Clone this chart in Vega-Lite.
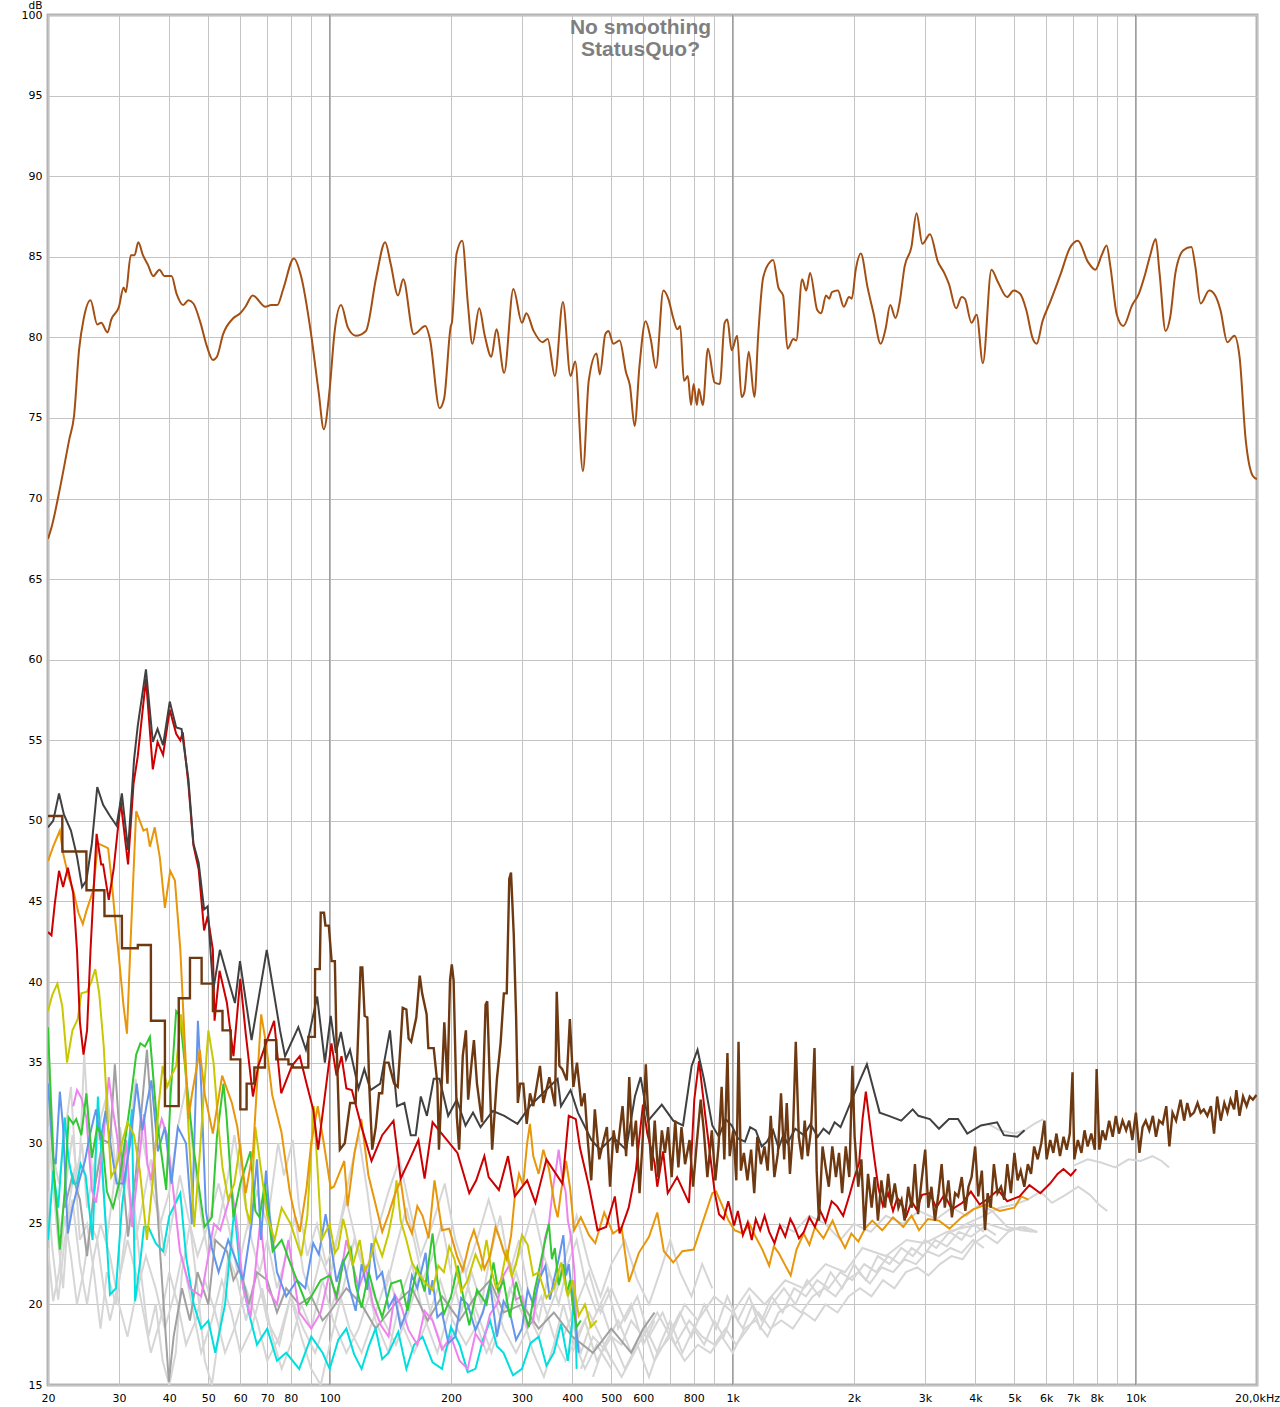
{
"$schema":"https://vega.github.io/schema/vega-lite/v6.json",
"width":1209,"height":1370,
"autosize":{"type":"none"},
"padding":{"left":48,"top":15,"right":23,"bottom":22},
"background":"#ffffff",
"title":{"text":["No smoothing","StatusQuo?"],"anchor":"middle","dx":-12,"offset":-60,"fontSize":21,"font":"Liberation Sans","fontWeight":"bold","color":"#7f7f7f","lineHeight":22},
"config":{"view":{"stroke":"#b4b4b4","strokeWidth":3},"font":"DejaVu Sans",
 "axis":{"labelFont":"DejaVu Sans","labelFontSize":11,"labelColor":"#000000","ticks":false,"domain":false,"gridColor":"#c4c4c4","gridWidth":1,"gridOpacity":1}},
"datasets":{
"major":[{"f":100},{"f":1000},{"f":10000}],
"main":[{"f":20,"db":67.5},{"f":20.45,"db":68.3},{"f":21.4,"db":70.6},{"f":22.6,"db":73.7},{"f":23.2,"db":75.1},{"f":23.9,"db":79.3},{"f":24.5,"db":81.1},{"f":25.5,"db":82.3},{"f":26.5,"db":80.8},{"f":27.1,"db":80.9},{"f":28.1,"db":80.3},{"f":28.7,"db":81.1},{"f":30,"db":81.9},{"f":30.8,"db":83.1},{"f":31.2,"db":82.8},{"f":32.1,"db":85.1},{"f":32.8,"db":85.1},{"f":33.5,"db":85.9},{"f":34.4,"db":85.1},{"f":35.4,"db":84.5},{"f":36.5,"db":83.8},{"f":37.8,"db":84.2},{"f":38.9,"db":83.8},{"f":40.5,"db":83.8},{"f":41.7,"db":82.7},{"f":43.3,"db":82.0},{"f":44.6,"db":82.3},{"f":45.9,"db":82.1},{"f":47.8,"db":80.9},{"f":49.5,"db":79.5},{"f":51.3,"db":78.6},{"f":52.5,"db":78.8},{"f":54.4,"db":80.2},{"f":57.7,"db":81.2},{"f":60,"db":81.5},{"f":61.8,"db":81.9},{"f":64.4,"db":82.6},{"f":69.3,"db":81.9},{"f":71.6,"db":82.0},{"f":74.1,"db":82},{"f":76.7,"db":83.0},{"f":81.5,"db":84.9},{"f":84.9,"db":83.8},{"f":89.8,"db":80.3},{"f":93.9,"db":76.6},{"f":96.7,"db":74.3},{"f":100,"db":76.8},{"f":102.8,"db":80.3},{"f":106.7,"db":82},{"f":111,"db":80.6},{"f":116.1,"db":80.1},{"f":123,"db":80.4},{"f":130.4,"db":83.7},{"f":137.3,"db":85.9},{"f":141.6,"db":84.6},{"f":147.8,"db":82.6},{"f":152.2,"db":83.6},{"f":161.6,"db":80.2},{"f":172.8,"db":80.7},{"f":177.3,"db":79.9},{"f":187.4,"db":75.6},{"f":192.3,"db":76.2},{"f":199.8,"db":80.7},{"f":201,"db":80.9},{"f":206.5,"db":85.2},{"f":213.3,"db":86.0},{"f":220.2,"db":82.1},{"f":226,"db":79.6},{"f":235,"db":81.8},{"f":242.6,"db":80.1},{"f":251.9,"db":78.8},{"f":259.3,"db":80.5},{"f":271,"db":77.8},{"f":285.6,"db":83.0},{"f":300,"db":80.9},{"f":307.7,"db":81.5},{"f":320.6,"db":80.4},{"f":337.3,"db":79.7},{"f":347.6,"db":79.9},{"f":362,"db":77.6},{"f":379.1,"db":82.2},{"f":396,"db":77.6},{"f":406.7,"db":78.5},{"f":425,"db":71.7},{"f":439.3,"db":77.3},{"f":459.5,"db":79.0},{"f":468,"db":77.7},{"f":483,"db":80.2},{"f":492,"db":80.4},{"f":505.4,"db":79.6},{"f":524,"db":79.8},{"f":544,"db":77.8},{"f":556,"db":77.0},{"f":571,"db":74.5},{"f":587,"db":78.2},{"f":608,"db":81.0},{"f":626,"db":79.9},{"f":645,"db":78.1},{"f":673,"db":82.9},{"f":692,"db":82.4},{"f":712,"db":81.2},{"f":729,"db":80.5},{"f":741,"db":80.7},{"f":757,"db":77.3},{"f":774,"db":77.6},{"f":788,"db":75.8},{"f":800,"db":77.1},{"f":815,"db":75.8},{"f":824,"db":76.8},{"f":843,"db":75.8},{"f":868,"db":79.3},{"f":902,"db":77.2},{"f":929,"db":77.1},{"f":955,"db":80.9},{"f":970,"db":81.1},{"f":994,"db":79.2},{"f":1026,"db":80.1},{"f":1052,"db":76.3},{"f":1069,"db":76.6},{"f":1096,"db":79.1},{"f":1132,"db":76.3},{"f":1158,"db":80.3},{"f":1190,"db":83.7},{"f":1240,"db":84.7},{"f":1260,"db":84.8},{"f":1298,"db":83.1},{"f":1334,"db":82.6},{"f":1368,"db":79.3},{"f":1415,"db":79.9},{"f":1438,"db":79.8},{"f":1487,"db":83.6},{"f":1522,"db":82.9},{"f":1556,"db":84.0},{"f":1621,"db":81.7},{"f":1658,"db":81.5},{"f":1704,"db":82.6},{"f":1735,"db":82.4},{"f":1763,"db":82.8},{"f":1824,"db":82.9},{"f":1887,"db":81.9},{"f":1944,"db":82.5},{"f":1975,"db":82.4},{"f":2020,"db":84.2},{"f":2080,"db":85.2},{"f":2161,"db":83.1},{"f":2236,"db":81.5},{"f":2329,"db":79.6},{"f":2394,"db":80.5},{"f":2460,"db":82.0},{"f":2535,"db":81.2},{"f":2593,"db":82.1},{"f":2671,"db":84.4},{"f":2776,"db":85.6},{"f":2859,"db":87.7},{"f":2957,"db":85.8},{"f":3087,"db":86.4},{"f":3230,"db":84.7},{"f":3349,"db":84.0},{"f":3441,"db":83.3},{"f":3584,"db":81.8},{"f":3700,"db":82.5},{"f":3767,"db":82.4},{"f":3914,"db":80.9},{"f":4030,"db":81.4},{"f":4177,"db":78.4},{"f":4386,"db":84.2},{"f":4557,"db":83.4},{"f":4796,"db":82.5},{"f":4979,"db":82.9},{"f":5168,"db":82.7},{"f":5352,"db":81.7},{"f":5556,"db":79.9},{"f":5681,"db":79.6},{"f":5872,"db":81.0},{"f":6137,"db":82.2},{"f":6528,"db":84.0},{"f":6850,"db":85.5},{"f":7189,"db":86.0},{"f":7606,"db":84.7},{"f":7940,"db":84.2},{"f":8235,"db":85.1},{"f":8470,"db":85.7},{"f":8653,"db":84.4},{"f":8979,"db":81.4},{"f":9316,"db":80.7},{"f":9800,"db":82.0},{"f":10180,"db":82.7},{"f":10550,"db":83.9},{"f":10840,"db":85.0},{"f":11210,"db":86.1},{"f":11460,"db":84.0},{"f":11860,"db":80.4},{"f":12190,"db":81.3},{"f":12550,"db":84.0},{"f":13130,"db":85.4},{"f":13750,"db":85.6},{"f":14060,"db":84.4},{"f":14490,"db":82.1},{"f":15220,"db":82.9},{"f":15750,"db":82.6},{"f":16230,"db":81.7},{"f":16880,"db":79.7},{"f":17570,"db":80.1},{"f":18100,"db":78.8},{"f":18740,"db":73.7},{"f":19530,"db":71.4},{"f":20000,"db":71.2}],
"brown":[{"f":20,"db":50.3},{"f":21.7,"db":50.3},{"f":21.72,"db":48.1},{"f":24.9,"db":48.1},{"f":24.92,"db":45.7},{"f":27.6,"db":45.7},{"f":27.62,"db":44.1},{"f":30.5,"db":44.1},{"f":30.52,"db":42.1},{"f":33.4,"db":42.1},{"f":33.42,"db":42.3},{"f":36,"db":42.3},{"f":36.02,"db":37.6},{"f":39,"db":37.6},{"f":39.02,"db":32.3},{"f":42.2,"db":32.3},{"f":42.22,"db":39.0},{"f":45,"db":39.0},{"f":45.02,"db":41.5},{"f":48.1,"db":41.5},{"f":48.12,"db":39.9},{"f":51.3,"db":39.9},{"f":51.32,"db":38.2},{"f":54.2,"db":38.2},{"f":54.22,"db":37.0},{"f":56.8,"db":37.0},{"f":56.82,"db":35.2},{"f":60,"db":35.2},{"f":60.02,"db":32.1},{"f":62.2,"db":32.1},{"f":62.22,"db":33.7},{"f":65,"db":33.7},{"f":65.02,"db":34.7},{"f":69.1,"db":34.7},{"f":69.12,"db":36.4},{"f":73.7,"db":36.4},{"f":73.72,"db":35.2},{"f":79,"db":35.2},{"f":79.02,"db":34.9},{"f":81,"db":34.9},{"f":81.02,"db":34.7},{"f":88.5,"db":34.7},{"f":88.52,"db":36.6},{"f":91.9,"db":36.6},{"f":92,"db":40.8},{"f":94.5,"db":40.8},{"f":95,"db":44.3},{"f":96.8,"db":44.3},{"f":97.6,"db":43.5},{"f":99.5,"db":43.5},{"f":101.1,"db":41.3},{"f":103,"db":41.3},{"f":103.9,"db":36.6},{"f":106,"db":29.6},{"f":109,"db":30.0},{"f":112.4,"db":32.5},{"f":116,"db":32.5},{"f":119.3,"db":40.9},{"f":120.5,"db":40.9},{"f":122.1,"db":37.9},{"f":124,"db":37.8},{"f":125.3,"db":33.7},{"f":127.5,"db":29.6},{"f":130.1,"db":31.0},{"f":132.6,"db":33.1},{"f":135,"db":33.1},{"f":136.9,"db":35.0},{"f":140,"db":35.0},{"f":144.5,"db":33.7},{"f":147.5,"db":33.5},{"f":149.7,"db":35.9},{"f":151.8,"db":38.4},{"f":155,"db":38.3},{"f":157,"db":36.5},{"f":159.3,"db":36.3},{"f":164,"db":37.8},{"f":167.3,"db":40.4},{"f":169.6,"db":39.3},{"f":174,"db":38.0},{"f":175.7,"db":35.9},{"f":181.2,"db":35.9},{"f":185,"db":33.7},{"f":186.7,"db":29.6},{"f":192.5,"db":37.5},{"f":196,"db":33.7},{"f":198.9,"db":40.1},{"f":200.9,"db":41.1},{"f":203,"db":40.1},{"f":206.7,"db":31.7},{"f":209.5,"db":29.6},{"f":213.9,"db":35.4},{"f":217.8,"db":37.0},{"f":220.6,"db":32.7},{"f":225,"db":35},{"f":228,"db":36.4},{"f":232,"db":33.7},{"f":238.8,"db":31.3},{"f":243.7,"db":38.6},{"f":246,"db":38.8},{"f":249.6,"db":33.9},{"f":253,"db":29.6},{"f":260,"db":34},{"f":265.5,"db":36.2},{"f":270.5,"db":39.3},{"f":275,"db":39.3},{"f":279,"db":46.4},{"f":281.8,"db":46.8},{"f":286.2,"db":43.0},{"f":290.1,"db":37.9},{"f":293,"db":32.5},{"f":297,"db":33.7},{"f":302.3,"db":33.7},{"f":308.2,"db":31.2},{"f":314.1,"db":33.1},{"f":320.1,"db":32.3},{"f":332.5,"db":34.8},{"f":338.9,"db":32.5},{"f":350.8,"db":34.1},{"f":362.4,"db":32.3},{"f":365.9,"db":39.4},{"f":371.5,"db":34.8},{"f":377.6,"db":34.6},{"f":387.4,"db":33.9},{"f":394.4,"db":37.7},{"f":402.5,"db":33.5},{"f":410.8,"db":35.0},{"f":421.4,"db":32.3},{"f":429,"db":33.1},{"f":436.8,"db":30.2},{"f":445.7,"db":27.7},{"f":454.9,"db":32.1},{"f":466.7,"db":29.0},{"f":476.3,"db":30.0},{"f":487.4,"db":31.0},{"f":496.2,"db":27.3},{"f":506.4,"db":30.8},{"f":516.8,"db":29.4},{"f":533,"db":32.3},{"f":544,"db":29.2},{"f":553.8,"db":34.1},{"f":563.8,"db":29.8},{"f":575.4,"db":31.4},{"f":587.3,"db":26.9},{"f":597.9,"db":30.2},{"f":608.7,"db":34.9},{"f":618,"db":31.4},{"f":629.2,"db":28.3},{"f":640.6,"db":31.4},{"f":653.7,"db":27.9},{"f":667.2,"db":30.8},{"f":679.2,"db":29.4},{"f":691.5,"db":31.0},{"f":705.6,"db":27.9},{"f":720.2,"db":31.4},{"f":733.2,"db":28.5},{"f":746.4,"db":31.0},{"f":761.8,"db":28.7},{"f":781.5,"db":30.2},{"f":797.5,"db":27.3},{"f":811.9,"db":29.6},{"f":832.9,"db":32.7},{"f":847.8,"db":30.8},{"f":865.3,"db":27.9},{"f":887.7,"db":30.8},{"f":905.9,"db":27.7},{"f":922.3,"db":29.8},{"f":938.9,"db":33.5},{"f":953.4,"db":29.0},{"f":970.5,"db":35.6},{"f":983,"db":29.2},{"f":1003,"db":30.8},{"f":1021,"db":27.7},{"f":1034,"db":36.3},{"f":1048,"db":28.3},{"f":1066,"db":29.4},{"f":1088,"db":27.7},{"f":1111,"db":29.6},{"f":1131,"db":26.9},{"f":1151,"db":30.4},{"f":1175,"db":28.7},{"f":1199,"db":29.8},{"f":1221,"db":28.3},{"f":1243,"db":31.7},{"f":1269,"db":27.9},{"f":1295,"db":29.4},{"f":1318,"db":33.1},{"f":1342,"db":29.0},{"f":1362,"db":32.5},{"f":1387,"db":28.1},{"f":1412,"db":30.8},{"f":1434,"db":36.3},{"f":1459,"db":30.4},{"f":1486,"db":29.0},{"f":1509,"db":31.4},{"f":1536,"db":29.2},{"f":1564,"db":30.8},{"f":1596,"db":35.9},{"f":1616,"db":28.3},{"f":1637,"db":25.2},{"f":1671,"db":29.8},{"f":1701,"db":28.5},{"f":1732,"db":27.3},{"f":1767,"db":29.8},{"f":1804,"db":27.9},{"f":1836,"db":29.4},{"f":1869,"db":26.9},{"f":1908,"db":29.8},{"f":1947,"db":27.9},{"f":1982,"db":34.8},{"f":2007,"db":30.4},{"f":2049,"db":27.3},{"f":2086,"db":29.0},{"f":2123,"db":24.6},{"f":2167,"db":28.1},{"f":2212,"db":26.0},{"f":2252,"db":27.9},{"f":2293,"db":25.2},{"f":2339,"db":27.7},{"f":2388,"db":26.0},{"f":2431,"db":28.1},{"f":2475,"db":26.2},{"f":2525,"db":27.5},{"f":2578,"db":26.0},{"f":2624,"db":26.5},{"f":2671,"db":25.2},{"f":2726,"db":27.3},{"f":2782,"db":26.0},{"f":2833,"db":28.7},{"f":2884,"db":25.6},{"f":2943,"db":27.7},{"f":3004,"db":29.6},{"f":3058,"db":26.0},{"f":3113,"db":27.3},{"f":3176,"db":25.2},{"f":3242,"db":26.9},{"f":3300,"db":28.7},{"f":3360,"db":26.0},{"f":3430,"db":27.7},{"f":3500,"db":25.4},{"f":3563,"db":26.9},{"f":3627,"db":26.7},{"f":3702,"db":27.9},{"f":3778,"db":25.8},{"f":3847,"db":27.3},{"f":3916,"db":27.9},{"f":3996,"db":29.8},{"f":4068,"db":26.7},{"f":4152,"db":28.3},{"f":4227,"db":24.6},{"f":4292,"db":26.9},{"f":4369,"db":26.0},{"f":4448,"db":28.7},{"f":4540,"db":26.9},{"f":4633,"db":27.3},{"f":4717,"db":26.5},{"f":4802,"db":28.7},{"f":4901,"db":26.9},{"f":5002,"db":29.4},{"f":5093,"db":27.7},{"f":5184,"db":28.3},{"f":5292,"db":27.3},{"f":5401,"db":28.7},{"f":5499,"db":28.1},{"f":5598,"db":29.8},{"f":5713,"db":29.0},{"f":5831,"db":30.0},{"f":5936,"db":31.4},{"f":6012,"db":29.0},{"f":6136,"db":30.2},{"f":6246,"db":29.4},{"f":6359,"db":30.6},{"f":6489,"db":29.2},{"f":6623,"db":30.4},{"f":6743,"db":29.6},{"f":6864,"db":30.6},{"f":6970,"db":34.4},{"f":7042,"db":29.0},{"f":7186,"db":30.2},{"f":7335,"db":29.4},{"f":7466,"db":30.8},{"f":7601,"db":29.8},{"f":7758,"db":30.6},{"f":7918,"db":29.6},{"f":8000,"db":34.6},{"f":8124,"db":29.6},{"f":8270,"db":30.8},{"f":8419,"db":30.2},{"f":8593,"db":31.4},{"f":8770,"db":30.4},{"f":8929,"db":31.7},{"f":9089,"db":30.6},{"f":9277,"db":31.4},{"f":9469,"db":30.8},{"f":9636,"db":31.4},{"f":9810,"db":30.2},{"f":10012,"db":31.9},{"f":10219,"db":29.4},{"f":10402,"db":31.0},{"f":10590,"db":31.4},{"f":10808,"db":30.8},{"f":11031,"db":31.7},{"f":11230,"db":30.4},{"f":11432,"db":31.4},{"f":11668,"db":31.2},{"f":11909,"db":32.3},{"f":12123,"db":29.8},{"f":12342,"db":31.9},{"f":12596,"db":31.4},{"f":12923,"db":32.7},{"f":13190,"db":31.4},{"f":13427,"db":32.5},{"f":13669,"db":31.7},{"f":13950,"db":31.9},{"f":14239,"db":32.5},{"f":14495,"db":31.9},{"f":14756,"db":32.1},{"f":15061,"db":31.7},{"f":15370,"db":32.3},{"f":15648,"db":30.6},{"f":15929,"db":32.9},{"f":16258,"db":31.4},{"f":16593,"db":32.5},{"f":16891,"db":31.9},{"f":17195,"db":32.7},{"f":17551,"db":32.1},{"f":17776,"db":33.3},{"f":18097,"db":31.7},{"f":18468,"db":32.9},{"f":18850,"db":32.3},{"f":19190,"db":32.9},{"f":19535,"db":32.7},{"f":19936,"db":33.0}],
"dgray":[{"f":20,"db":49.6},{"f":20.6,"db":50.0},{"f":21.3,"db":51.7},{"f":21.9,"db":50.4},{"f":22.8,"db":49.4},{"f":23.6,"db":47.8},{"f":24.3,"db":45.9},{"f":24.9,"db":46.3},{"f":25.7,"db":48.6},{"f":26.5,"db":52.1},{"f":27.4,"db":51.0},{"f":28.5,"db":50.3},{"f":29.6,"db":49.7},{"f":30.5,"db":51.7},{"f":31.6,"db":48.2},{"f":32.7,"db":53.8},{"f":33.4,"db":55.9},{"f":35,"db":59.4},{"f":36.4,"db":54.9},{"f":37.4,"db":55.7},{"f":38.6,"db":54.7},{"f":40.1,"db":57.4},{"f":41.6,"db":55.8},{"f":42.9,"db":55.7},{"f":44.6,"db":52.6},{"f":45.9,"db":48.6},{"f":47.3,"db":47.4},{"f":48.8,"db":44.5},{"f":49.8,"db":44.7},{"f":50.6,"db":42.0},{"f":51.4,"db":39.5},{"f":53.4,"db":42.0},{"f":55.5,"db":40.5},{"f":58.2,"db":38.7},{"f":59.9,"db":41.3},{"f":64,"db":36.4},{"f":69.8,"db":42.0},{"f":75.3,"db":37.0},{"f":77.5,"db":35.4},{"f":83.6,"db":37.2},{"f":87.3,"db":35.8},{"f":93.1,"db":39.1},{"f":97.3,"db":35.0},{"f":100.6,"db":37.9},{"f":103.6,"db":35.6},{"f":106.6,"db":36.9},{"f":109.8,"db":35.2},{"f":112.3,"db":35.8},{"f":117.9,"db":33.4},{"f":121.9,"db":34.6},{"f":126.3,"db":33.3},{"f":133.5,"db":33.7},{"f":141.1,"db":37.0},{"f":146.9,"db":32.3},{"f":153.2,"db":32.5},{"f":158.9,"db":30.5},{"f":163.5,"db":30.5},{"f":168.3,"db":32.9},{"f":174.3,"db":31.7},{"f":181.2,"db":34.0},{"f":187.3,"db":34.0},{"f":196.8,"db":31.7},{"f":206.7,"db":32.7},{"f":217.3,"db":31.1},{"f":226.8,"db":31.9},{"f":236.8,"db":31.0},{"f":254,"db":32.0},{"f":271.3,"db":31.7},{"f":292.4,"db":31.2},{"f":314,"db":32.3},{"f":338,"db":33.1},{"f":367.7,"db":34.0},{"f":375,"db":32.3},{"f":396,"db":33.3},{"f":413,"db":31.9},{"f":446,"db":30.2},{"f":469,"db":29.6},{"f":504,"db":30.4},{"f":544,"db":29.6},{"f":572,"db":32.9},{"f":591,"db":34.1},{"f":617,"db":31.4},{"f":667,"db":32.4},{"f":712,"db":31.4},{"f":753,"db":31.1},{"f":791,"db":34.8},{"f":818,"db":35.8},{"f":848,"db":34.0},{"f":890,"db":31.1},{"f":924,"db":30.4},{"f":960,"db":31.5},{"f":995,"db":31.1},{"f":1030,"db":30.3},{"f":1073,"db":30.1},{"f":1105,"db":31.0},{"f":1141,"db":30.8},{"f":1180,"db":29.8},{"f":1216,"db":30.1},{"f":1260,"db":30.8},{"f":1300,"db":29.7},{"f":1335,"db":30.5},{"f":1368,"db":30.0},{"f":1430,"db":30.9},{"f":1502,"db":30.5},{"f":1560,"db":31.2},{"f":1625,"db":30.4},{"f":1680,"db":30.9},{"f":1735,"db":30.6},{"f":1790,"db":31.3},{"f":1852,"db":31.0},{"f":1953,"db":32.4},{"f":2076,"db":34.0},{"f":2153,"db":34.9},{"f":2227,"db":33.5},{"f":2316,"db":31.9},{"f":2439,"db":31.7},{"f":2620,"db":31.4},{"f":2797,"db":32.1},{"f":2889,"db":31.7},{"f":3085,"db":31.5},{"f":3250,"db":30.9},{"f":3441,"db":31.5},{"f":3624,"db":31.5},{"f":3820,"db":30.6},{"f":4131,"db":31.1},{"f":4530,"db":31.3},{"f":4710,"db":30.5},{"f":5087,"db":30.4},{"f":5300,"db":30.8}],
"red":[{"f":20,"db":43.1},{"f":20.4,"db":42.9},{"f":20.8,"db":44.9},{"f":21.3,"db":46.9},{"f":21.8,"db":45.9},{"f":22.4,"db":47.1},{"f":23.1,"db":45.5},{"f":23.6,"db":42.0},{"f":24.0,"db":37.5},{"f":24.5,"db":35.5},{"f":25.0,"db":37.0},{"f":25.5,"db":42.0},{"f":26.4,"db":49.2},{"f":27.1,"db":47.3},{"f":27.4,"db":47.3},{"f":28.3,"db":45.1},{"f":29.1,"db":47.0},{"f":30.3,"db":51.2},{"f":31.6,"db":47.3},{"f":32.6,"db":52.3},{"f":33.4,"db":54.0},{"f":35,"db":58.8},{"f":36.4,"db":53.2},{"f":37.4,"db":54.9},{"f":38.6,"db":54.1},{"f":40.1,"db":56.9},{"f":41.6,"db":55.4},{"f":42.6,"db":55.0},{"f":43.2,"db":55.5},{"f":44.6,"db":52.3},{"f":45.9,"db":48.5},{"f":47.3,"db":47.0},{"f":48.8,"db":43.2},{"f":49.8,"db":44.1},{"f":51.3,"db":42.0},{"f":51.8,"db":37.6},{"f":53.3,"db":40.7},{"f":55.6,"db":38.7},{"f":57.7,"db":35.4},{"f":60,"db":40.2},{"f":61.9,"db":36.8},{"f":64.5,"db":32.9},{"f":66.5,"db":34.8},{"f":69.5,"db":36.2},{"f":72.8,"db":37.6},{"f":75.8,"db":33.1},{"f":80.6,"db":34.8},{"f":84.3,"db":35.4},{"f":87.6,"db":33.7},{"f":91,"db":32.1},{"f":93.6,"db":29.6},{"f":101,"db":36.2},{"f":104,"db":34.2},{"f":107,"db":35.4},{"f":110,"db":33.4},{"f":113.5,"db":33.3},{"f":120,"db":31},{"f":127,"db":28.9},{"f":135,"db":30.5},{"f":144,"db":31.4},{"f":150,"db":27.8},{"f":158,"db":29},{"f":166,"db":30.2},{"f":172,"db":27.8},{"f":180,"db":31.3},{"f":191,"db":30.5},{"f":207.5,"db":29.4},{"f":222,"db":26.9},{"f":231,"db":27.7},{"f":242,"db":29.2},{"f":248,"db":27.9},{"f":263,"db":27.1},{"f":277,"db":29.2},{"f":288,"db":26.7},{"f":309,"db":27.7},{"f":324,"db":26.3},{"f":345,"db":29.0},{"f":378,"db":27.5},{"f":392,"db":31.7},{"f":408,"db":31.5},{"f":418,"db":29.7},{"f":440,"db":27.3},{"f":462,"db":24.6},{"f":485,"db":24.8},{"f":510,"db":26.7},{"f":524,"db":24.4},{"f":552,"db":26.0},{"f":575,"db":28.3},{"f":599,"db":32.4},{"f":614,"db":30.6},{"f":640,"db":28.8},{"f":650,"db":27.3},{"f":672,"db":29.5},{"f":690,"db":26.9},{"f":728,"db":27.9},{"f":779,"db":26.3},{"f":803,"db":32.7},{"f":825,"db":35.1},{"f":857,"db":31.5},{"f":903,"db":26.9},{"f":925,"db":25.6},{"f":950,"db":25.3},{"f":975,"db":26.4},{"f":1008,"db":24.9},{"f":1030,"db":25.8},{"f":1060,"db":24.3},{"f":1090,"db":25.1},{"f":1115,"db":24.0},{"f":1141,"db":25.3},{"f":1170,"db":24.6},{"f":1200,"db":25.5},{"f":1232,"db":24.5},{"f":1270,"db":23.8},{"f":1310,"db":24.9},{"f":1350,"db":24.2},{"f":1390,"db":25.3},{"f":1418,"db":24.9},{"f":1460,"db":24.1},{"f":1502,"db":24.5},{"f":1550,"db":25.4},{"f":1600,"db":24.8},{"f":1650,"db":25.8},{"f":1700,"db":25.1},{"f":1760,"db":26.4},{"f":1815,"db":26.1},{"f":1880,"db":25.5},{"f":1950,"db":26.8},{"f":2000,"db":27.8},{"f":2060,"db":28.8},{"f":2100,"db":31.5},{"f":2140,"db":33.2},{"f":2190,"db":31.2},{"f":2248,"db":29.0},{"f":2300,"db":27.2},{"f":2360,"db":26.1},{"f":2430,"db":26.9},{"f":2500,"db":25.8},{"f":2560,"db":26.6},{"f":2620,"db":26.3},{"f":2700,"db":25.5},{"f":2780,"db":26.4},{"f":2858,"db":25.9},{"f":2950,"db":26.8},{"f":3085,"db":26.9},{"f":3200,"db":26.0},{"f":3350,"db":26.8},{"f":3500,"db":25.9},{"f":3714,"db":26.3},{"f":3900,"db":27.0},{"f":4100,"db":26.2},{"f":4327,"db":26.6},{"f":4550,"db":27.1},{"f":4800,"db":26.4},{"f":5150,"db":26.7},{"f":5450,"db":27.4},{"f":5800,"db":26.9},{"f":6130,"db":27.5},{"f":6400,"db":28.1},{"f":6620,"db":28.4},{"f":6900,"db":28.0},{"f":7120,"db":28.4}],
"orange":[{"f":20,"db":47.5},{"f":20.6,"db":48.4},{"f":21.4,"db":49.4},{"f":21.8,"db":48.0},{"f":22.5,"db":46.5},{"f":23.1,"db":45.7},{"f":23.8,"db":44.3},{"f":24.4,"db":43.6},{"f":24.9,"db":44.4},{"f":25.9,"db":45.7},{"f":26.6,"db":48.6},{"f":27.7,"db":48.4},{"f":28.2,"db":48.3},{"f":28.8,"db":46.2},{"f":29.3,"db":44.1},{"f":30.0,"db":41.5},{"f":30.8,"db":38.5},{"f":31.4,"db":36.8},{"f":32.0,"db":42.0},{"f":32.5,"db":46.0},{"f":33.1,"db":50.6},{"f":34.5,"db":49.4},{"f":35.2,"db":49.5},{"f":35.8,"db":48.4},{"f":36.8,"db":49.6},{"f":37.9,"db":47.7},{"f":39,"db":44.6},{"f":40.2,"db":46.9},{"f":41.3,"db":46.3},{"f":42.6,"db":42.0},{"f":43.3,"db":38.3},{"f":44.6,"db":31.5},{"f":45.5,"db":33},{"f":47.6,"db":35.8},{"f":49,"db":33},{"f":51.3,"db":30.6},{"f":54.1,"db":34.2},{"f":57.2,"db":32.5},{"f":59,"db":31},{"f":61.9,"db":26.9},{"f":64.6,"db":29.6},{"f":67.6,"db":38.0},{"f":69.5,"db":36.2},{"f":72,"db":33},{"f":75.9,"db":30.7},{"f":79.6,"db":27.0},{"f":82,"db":25.5},{"f":84.3,"db":24.5},{"f":87.6,"db":27.2},{"f":90,"db":30},{"f":93.4,"db":32.3},{"f":96.7,"db":30.0},{"f":100.6,"db":27.2},{"f":102.4,"db":27.3},{"f":108.7,"db":28.9},{"f":110.8,"db":26.1},{"f":115.2,"db":29.4},{"f":119.8,"db":31.5},{"f":124.8,"db":28.0},{"f":130,"db":26.2},{"f":135,"db":24.5},{"f":140,"db":25.6},{"f":145,"db":26.8},{"f":150,"db":27.7},{"f":155,"db":25.2},{"f":160,"db":24.4},{"f":165,"db":26.1},{"f":170,"db":25.5},{"f":176,"db":24.1},{"f":182,"db":27.7},{"f":190,"db":24.6},{"f":198,"db":24.7},{"f":207,"db":23.0},{"f":214,"db":22.1},{"f":222,"db":23.8},{"f":228,"db":24.6},{"f":235,"db":23.5},{"f":242,"db":22.2},{"f":250,"db":23.0},{"f":258,"db":24.8},{"f":265,"db":24.0},{"f":270,"db":23.3},{"f":275,"db":22.8},{"f":282,"db":24.3},{"f":288,"db":26.7},{"f":295,"db":28.1},{"f":302,"db":27.4},{"f":309,"db":30.0},{"f":314,"db":31.2},{"f":320,"db":29.2},{"f":330,"db":28.1},{"f":339,"db":29.6},{"f":350,"db":28.4},{"f":362,"db":26.1},{"f":368,"db":25.4},{"f":375,"db":27.0},{"f":386,"db":28.9},{"f":395,"db":27.2},{"f":404,"db":24.6},{"f":420,"db":25.4},{"f":440,"db":24.3},{"f":456,"db":23.8},{"f":480,"db":25.7},{"f":505,"db":24.4},{"f":530,"db":24.8},{"f":553,"db":21.4},{"f":585,"db":23.2},{"f":620,"db":24.2},{"f":650,"db":25.7},{"f":675,"db":23.3},{"f":712,"db":22.6},{"f":750,"db":23.3},{"f":800,"db":23.4},{"f":890,"db":26.9},{"f":910,"db":27.0},{"f":977,"db":25.2},{"f":1010,"db":24.6},{"f":1060,"db":24.4},{"f":1100,"db":25.0},{"f":1140,"db":24.2},{"f":1185,"db":23.4},{"f":1232,"db":22.4},{"f":1265,"db":23.6},{"f":1300,"db":23.2},{"f":1345,"db":22.5},{"f":1393,"db":21.8},{"f":1440,"db":23.4},{"f":1500,"db":24.4},{"f":1550,"db":23.7},{"f":1600,"db":24.8},{"f":1680,"db":24.1},{"f":1770,"db":25.2},{"f":1830,"db":24.3},{"f":1900,"db":23.5},{"f":1970,"db":24.4},{"f":2050,"db":23.9},{"f":2130,"db":24.7},{"f":2220,"db":25.2},{"f":2350,"db":24.6},{"f":2500,"db":25.4},{"f":2650,"db":24.8},{"f":2780,"db":25.5},{"f":2900,"db":24.6},{"f":3050,"db":25.3},{"f":3250,"db":25.2},{"f":3450,"db":24.7},{"f":3700,"db":25.4},{"f":3950,"db":25.9},{"f":4250,"db":26.2},{"f":4600,"db":25.8},{"f":5000,"db":26.0},{"f":5200,"db":26.7},{"f":5420,"db":26.5}],
"gray":[{"f":22,"db":26},{"f":23,"db":28},{"f":24,"db":26.5},{"f":25,"db":23},{"f":26,"db":27},{"f":27.4,"db":30.2},{"f":28.5,"db":30},{"f":29.3,"db":34.9},{"f":30.2,"db":30},{"f":31.6,"db":24.2},{"f":33,"db":28},{"f":35.2,"db":35.8},{"f":36.5,"db":30},{"f":38,"db":23},{"f":39.9,"db":15.2},{"f":41,"db":18},{"f":43,"db":21},{"f":45,"db":19},{"f":47,"db":22},{"f":50,"db":20},{"f":52,"db":24},{"f":55.6,"db":23.3},{"f":57.7,"db":21.5},{"f":60,"db":22.3},{"f":63,"db":20},{"f":66,"db":22},{"f":70,"db":21.5},{"f":74,"db":19.5},{"f":78,"db":21},{"f":84,"db":20},{"f":90,"db":20.5},{"f":96,"db":19},{"f":100,"db":19.5},{"f":110,"db":21},{"f":120,"db":20},{"f":130,"db":18.5},{"f":145,"db":20},{"f":160,"db":21},{"f":175,"db":19},{"f":190,"db":20.5},{"f":210,"db":19},{"f":230,"db":20.5},{"f":250,"db":21.5},{"f":270,"db":19.5},{"f":300,"db":20},{"f":330,"db":18.5},{"f":360,"db":19.5},{"f":400,"db":18},{"f":450,"db":17},{"f":500,"db":18.5},{"f":560,"db":17},{"f":600,"db":18.5},{"f":640,"db":19.5}],
"col":[
{"s":"c","f":20,"db":24},{"s":"c","f":20.6,"db":28.3},{"s":"c","f":21.2,"db":26},{"s":"c","f":22,"db":31.6},{"s":"c","f":22.5,"db":29},{"s":"c","f":23.1,"db":27.5},{"s":"c","f":23.6,"db":27.5},{"s":"c","f":24.1,"db":28.7},{"s":"c","f":24.8,"db":28},{"s":"c","f":25.8,"db":24.0},{"s":"c","f":26.6,"db":32.9},{"s":"c","f":27.5,"db":27},{"s":"c","f":28.5,"db":20.6},{"s":"c","f":29.5,"db":21},{"s":"c","f":30.5,"db":26},{"s":"c","f":31.5,"db":29},{"s":"c","f":32.3,"db":32.1},{"s":"c","f":32.9,"db":20.2},{"s":"c","f":34,"db":23},{"s":"c","f":34.6,"db":24.8},{"s":"c","f":35.5,"db":24.8},{"s":"c","f":37,"db":23.8},{"s":"c","f":38.6,"db":23.3},{"s":"c","f":40,"db":25.5},{"s":"c","f":42.6,"db":26.9},{"s":"c","f":44,"db":23},{"s":"c","f":46,"db":20},{"s":"c","f":48,"db":18.5},{"s":"c","f":50,"db":19},{"s":"c","f":52,"db":17},{"s":"c","f":55,"db":20},{"s":"c","f":58,"db":25.9},{"s":"c","f":60,"db":22},{"s":"c","f":63,"db":19.5},{"s":"c","f":66,"db":17.5},{"s":"c","f":70,"db":18.5},{"s":"c","f":74,"db":16.5},{"s":"c","f":78,"db":17},{"s":"c","f":84,"db":16},{"s":"c","f":90,"db":18},{"s":"c","f":96,"db":17},{"s":"c","f":100,"db":16},{"s":"c","f":105,"db":17.8},{"s":"c","f":110,"db":18.5},{"s":"c","f":115,"db":16.9},{"s":"c","f":120,"db":16},{"s":"c","f":125,"db":17.4},{"s":"c","f":130,"db":18.5},{"s":"c","f":135,"db":16.6},{"s":"c","f":140,"db":17},{"s":"c","f":148,"db":18.3},{"s":"c","f":155,"db":16},{"s":"c","f":162,"db":17.5},{"s":"c","f":170,"db":18},{"s":"c","f":180,"db":16.4},{"s":"c","f":190,"db":16},{"s":"c","f":200,"db":18.6},{"s":"c","f":210,"db":17.5},{"s":"c","f":220,"db":15.8},{"s":"c","f":230,"db":16},{"s":"c","f":240,"db":17.8},{"s":"c","f":250,"db":19},{"s":"c","f":260,"db":17.4},{"s":"c","f":270,"db":17},{"s":"c","f":285,"db":15.6},{"s":"c","f":300,"db":16},{"s":"c","f":315,"db":17.6},{"s":"c","f":330,"db":18},{"s":"c","f":345,"db":16.2},{"s":"c","f":360,"db":17},{"s":"c","f":375,"db":18.8},{"s":"c","f":390,"db":16.5},{"s":"c","f":400,"db":19},{"s":"c","f":405,"db":21.5},{"s":"c","f":410,"db":16},
{"s":"p","f":23.1,"db":32.3},{"s":"p","f":23.6,"db":33.3},{"s":"p","f":24.2,"db":32.8},{"s":"p","f":24.9,"db":31.6},{"s":"p","f":25.7,"db":27.1},{"s":"p","f":26.3,"db":26.3},{"s":"p","f":26.8,"db":27.7},{"s":"p","f":27.5,"db":30.5},{"s":"p","f":28.3,"db":34.1},{"s":"p","f":29,"db":32},{"s":"p","f":29.7,"db":30.4},{"s":"p","f":30.5,"db":27.5},{"s":"p","f":31.3,"db":30.2},{"s":"p","f":32.3,"db":24.8},{"s":"p","f":33.5,"db":28.5},{"s":"p","f":34.6,"db":31.8},{"s":"p","f":35.3,"db":28.7},{"s":"p","f":36.1,"db":27.7},{"s":"p","f":37,"db":30},{"s":"p","f":38.3,"db":31.5},{"s":"p","f":39.5,"db":30.5},{"s":"p","f":40.9,"db":27.1},{"s":"p","f":42.5,"db":23.3},{"s":"p","f":45,"db":21},{"s":"p","f":48,"db":20.5},{"s":"p","f":51.6,"db":25.0},{"s":"p","f":53.5,"db":24.6},{"s":"p","f":57.2,"db":27.1},{"s":"p","f":59,"db":24.8},{"s":"p","f":61,"db":21},{"s":"p","f":63.6,"db":19.2},{"s":"p","f":67.3,"db":25.2},{"s":"p","f":70,"db":21},{"s":"p","f":74,"db":20},{"s":"p","f":79,"db":24.0},{"s":"p","f":84,"db":19.5},{"s":"p","f":90,"db":18.5},{"s":"p","f":95,"db":19.5},{"s":"p","f":100,"db":22},{"s":"p","f":104,"db":20.2},{"s":"p","f":110,"db":24},{"s":"p","f":114,"db":22.5},{"s":"p","f":118,"db":21},{"s":"p","f":123,"db":22.3},{"s":"p","f":128,"db":20},{"s":"p","f":134,"db":18.7},{"s":"p","f":140,"db":18},{"s":"p","f":145,"db":20.6},{"s":"p","f":150,"db":20},{"s":"p","f":157,"db":18.4},{"s":"p","f":165,"db":17.5},{"s":"p","f":172,"db":19.6},{"s":"p","f":180,"db":19},{"s":"p","f":190,"db":17.2},{"s":"p","f":200,"db":18},{"s":"p","f":210,"db":16.5},{"s":"p","f":220,"db":16},{"s":"p","f":230,"db":18.2},{"s":"p","f":240,"db":17.5},{"s":"p","f":250,"db":19.4},{"s":"p","f":260,"db":20},{"s":"p","f":270,"db":21.8},{"s":"p","f":280,"db":22.5},{"s":"p","f":290,"db":20.3},{"s":"p","f":300,"db":20.5},{"s":"p","f":310,"db":18.6},{"s":"p","f":320,"db":19},{"s":"p","f":328,"db":21.2},{"s":"p","f":335,"db":22},{"s":"p","f":342,"db":24.1},{"s":"p","f":350,"db":25},{"s":"p","f":358,"db":27.2},{"s":"p","f":365,"db":28.5},{"s":"p","f":370,"db":29.6},{"s":"p","f":378,"db":27.8},{"s":"p","f":385,"db":27},{"s":"p","f":390,"db":25.2},{"s":"p","f":395,"db":24.5},{"s":"p","f":400,"db":23.4},{"s":"p","f":405,"db":22},{"s":"p","f":410,"db":18},
{"s":"u","f":20,"db":33.7},{"s":"u","f":20.6,"db":29.1},{"s":"u","f":20.9,"db":28.7},{"s":"u","f":21.4,"db":33.2},{"s":"u","f":21.8,"db":31},{"s":"u","f":22.4,"db":24.4},{"s":"u","f":23,"db":26},{"s":"u","f":23.8,"db":27.5},{"s":"u","f":24.7,"db":28.9},{"s":"u","f":25.4,"db":30.5},{"s":"u","f":26.3,"db":32.1},{"s":"u","f":27,"db":30.2},{"s":"u","f":27.8,"db":32},{"s":"u","f":28.8,"db":29.4},{"s":"u","f":29.6,"db":27.5},{"s":"u","f":30.8,"db":27.5},{"s":"u","f":32,"db":30},{"s":"u","f":33.2,"db":33.7},{"s":"u","f":34.3,"db":30.8},{"s":"u","f":35.2,"db":32.5},{"s":"u","f":36.1,"db":33.9},{"s":"u","f":37.5,"db":29.5},{"s":"u","f":39,"db":31.0},{"s":"u","f":40.5,"db":27.5},{"s":"u","f":42,"db":31},{"s":"u","f":44,"db":30},{"s":"u","f":45.5,"db":25},{"s":"u","f":47.1,"db":37.6},{"s":"u","f":48,"db":33.5},{"s":"u","f":49.3,"db":25.8},{"s":"u","f":51,"db":23.5},{"s":"u","f":53,"db":22},{"s":"u","f":56,"db":24},{"s":"u","f":58,"db":23},{"s":"u","f":61,"db":21.5},{"s":"u","f":64,"db":25},{"s":"u","f":66,"db":29},{"s":"u","f":67.5,"db":24},{"s":"u","f":69.5,"db":28.3},{"s":"u","f":71,"db":25.5},{"s":"u","f":74,"db":22},{"s":"u","f":78,"db":20.5},{"s":"u","f":83,"db":21.5},{"s":"u","f":87,"db":21},{"s":"u","f":91,"db":23.8},{"s":"u","f":94,"db":23.1},{"s":"u","f":97.7,"db":25.6},{"s":"u","f":101,"db":23.5},{"s":"u","f":104,"db":21.4},{"s":"u","f":108,"db":22.8},{"s":"u","f":112,"db":21},{"s":"u","f":116,"db":19.6},{"s":"u","f":120,"db":22.5},{"s":"u","f":124,"db":20.9},{"s":"u","f":127,"db":23.8},{"s":"u","f":131,"db":21.6},{"s":"u","f":135,"db":22.0},{"s":"u","f":140,"db":19.8},{"s":"u","f":145,"db":20.5},{"s":"u","f":150,"db":18.6},{"s":"u","f":155,"db":19.5},{"s":"u","f":160,"db":21.8},{"s":"u","f":165,"db":21},{"s":"u","f":173,"db":23.2},{"s":"u","f":177,"db":20.6},{"s":"u","f":180,"db":21.5},{"s":"u","f":185,"db":19.2},{"s":"u","f":190,"db":19.5},{"s":"u","f":197,"db":17.6},{"s":"u","f":205,"db":18},{"s":"u","f":212,"db":20.4},{"s":"u","f":220,"db":20},{"s":"u","f":230,"db":18.4},{"s":"u","f":240,"db":19.5},{"s":"u","f":250,"db":21.3},{"s":"u","f":260,"db":18},{"s":"u","f":270,"db":20.2},{"s":"u","f":280,"db":19.5},{"s":"u","f":290,"db":17.8},{"s":"u","f":300,"db":18.5},{"s":"u","f":310,"db":20.9},{"s":"u","f":320,"db":20},{"s":"u","f":332,"db":21.6},{"s":"u","f":343,"db":22.4},{"s":"u","f":352,"db":20.3},{"s":"u","f":360,"db":21.5},{"s":"u","f":370,"db":22.8},{"s":"u","f":380,"db":24.3},{"s":"u","f":386,"db":21.8},{"s":"u","f":392,"db":22.5},{"s":"u","f":400,"db":20.5},{"s":"u","f":405,"db":19.5},{"s":"u","f":415,"db":17},
{"s":"g","f":20,"db":37.2},{"s":"g","f":20.3,"db":33},{"s":"g","f":20.7,"db":28},{"s":"g","f":21.4,"db":23.4},{"s":"g","f":22,"db":27},{"s":"g","f":22.5,"db":31.6},{"s":"g","f":23.1,"db":31.2},{"s":"g","f":23.5,"db":31.5},{"s":"g","f":24.2,"db":30.5},{"s":"g","f":24.9,"db":33.1},{"s":"g","f":25.7,"db":29.1},{"s":"g","f":26.5,"db":31},{"s":"g","f":27.2,"db":30.5},{"s":"g","f":28,"db":27},{"s":"g","f":29,"db":26},{"s":"g","f":30,"db":27.5},{"s":"g","f":31,"db":30},{"s":"g","f":32,"db":32.5},{"s":"g","f":33.1,"db":35.5},{"s":"g","f":33.9,"db":36.2},{"s":"g","f":34.8,"db":36},{"s":"g","f":35.8,"db":36.6},{"s":"g","f":37.2,"db":31.6},{"s":"g","f":39.3,"db":27.1},{"s":"g","f":40.3,"db":33},{"s":"g","f":41.6,"db":38.2},{"s":"g","f":42.5,"db":37.9},{"s":"g","f":44.2,"db":33.7},{"s":"g","f":46,"db":29.6},{"s":"g","f":48.9,"db":24.8},{"s":"g","f":51,"db":25.4},{"s":"g","f":52.5,"db":30.4},{"s":"g","f":54.5,"db":33.7},{"s":"g","f":55.5,"db":31.6},{"s":"g","f":57.7,"db":25.4},{"s":"g","f":60,"db":27.5},{"s":"g","f":63.6,"db":29.5},{"s":"g","f":65.4,"db":25.8},{"s":"g","f":67,"db":25.4},{"s":"g","f":69,"db":27.5},{"s":"g","f":72.2,"db":23.3},{"s":"g","f":76,"db":24},{"s":"g","f":80,"db":22.5},{"s":"g","f":87.6,"db":20.0},{"s":"g","f":95,"db":21.5},{"s":"g","f":100,"db":21.8},{"s":"g","f":104,"db":20.5},{"s":"g","f":108,"db":22.6},{"s":"g","f":112.8,"db":23.5},{"s":"g","f":116,"db":21.2},{"s":"g","f":120,"db":19.8},{"s":"g","f":125,"db":22},{"s":"g","f":130,"db":20.4},{"s":"g","f":135,"db":19.2},{"s":"g","f":142,"db":21.3},{"s":"g","f":150,"db":21.5},{"s":"g","f":156,"db":19.6},{"s":"g","f":165,"db":22.3},{"s":"g","f":172,"db":20.8},{"s":"g","f":180,"db":24.4},{"s":"g","f":185,"db":21.5},{"s":"g","f":192,"db":19.4},{"s":"g","f":200,"db":20.5},{"s":"g","f":208,"db":22.4},{"s":"g","f":215,"db":20.3},{"s":"g","f":222,"db":18.7},{"s":"g","f":232,"db":20.9},{"s":"g","f":245,"db":20},{"s":"g","f":255,"db":22.6},{"s":"g","f":262,"db":20.8},{"s":"g","f":270,"db":21.5},{"s":"g","f":280,"db":19.2},{"s":"g","f":290,"db":21.4},{"s":"g","f":300,"db":20},{"s":"g","f":312,"db":18.6},{"s":"g","f":322,"db":20.8},{"s":"g","f":330,"db":22},{"s":"g","f":340,"db":23.6},{"s":"g","f":350,"db":25.0},{"s":"g","f":356,"db":22.8},{"s":"g","f":362,"db":23.5},{"s":"g","f":370,"db":21.2},{"s":"g","f":380,"db":22.5},{"s":"g","f":388,"db":20.7},{"s":"g","f":395,"db":21.5},{"s":"g","f":401,"db":19.9},{"s":"g","f":410,"db":18.6},{"s":"g","f":420,"db":19},
{"s":"y","f":20,"db":38.2},{"s":"y","f":20.5,"db":39.2},{"s":"y","f":21.1,"db":39.9},{"s":"y","f":21.7,"db":38.5},{"s":"y","f":22.3,"db":35.0},{"s":"y","f":23,"db":37.0},{"s":"y","f":23.7,"db":37.7},{"s":"y","f":24.2,"db":39.3},{"s":"y","f":25,"db":39.4},{"s":"y","f":25.6,"db":40},{"s":"y","f":26.2,"db":40.8},{"s":"y","f":26.8,"db":39.3},{"s":"y","f":27.5,"db":36},{"s":"y","f":28.2,"db":31},{"s":"y","f":28.7,"db":27.9},{"s":"y","f":29.5,"db":28.5},{"s":"y","f":30.5,"db":30},{"s":"y","f":31.5,"db":31.3},{"s":"y","f":32.7,"db":30.5},{"s":"y","f":33.8,"db":28.3},{"s":"y","f":35.2,"db":24.0},{"s":"y","f":36.5,"db":28},{"s":"y","f":37.7,"db":32.5},{"s":"y","f":38.5,"db":34.8},{"s":"y","f":39.5,"db":33.5},{"s":"y","f":40.5,"db":34.2},{"s":"y","f":41.6,"db":34.8},{"s":"y","f":42.8,"db":38},{"s":"y","f":43.6,"db":36},{"s":"y","f":44.6,"db":31},{"s":"y","f":46.1,"db":24.8},{"s":"y","f":47.5,"db":29},{"s":"y","f":49,"db":34},{"s":"y","f":50,"db":37.0},{"s":"y","f":51.5,"db":35},{"s":"y","f":53,"db":31},{"s":"y","f":54.2,"db":28.5},{"s":"y","f":56,"db":26.5},{"s":"y","f":58,"db":27.5},{"s":"y","f":60,"db":30},{"s":"y","f":62,"db":26},{"s":"y","f":63.5,"db":25},{"s":"y","f":65.4,"db":31},{"s":"y","f":67,"db":29},{"s":"y","f":70,"db":25.5},{"s":"y","f":73,"db":24},{"s":"y","f":76,"db":26},{"s":"y","f":80,"db":25},{"s":"y","f":85,"db":23},{"s":"y","f":88,"db":25.5},{"s":"y","f":91.3,"db":32.3},{"s":"y","f":93.5,"db":28},{"s":"y","f":95.5,"db":24.0},{"s":"y","f":100,"db":25},{"s":"y","f":103,"db":23.2},{"s":"y","f":105,"db":23.5},{"s":"y","f":108,"db":25.3},{"s":"y","f":110,"db":24.5},{"s":"y","f":114,"db":22.4},{"s":"y","f":118.7,"db":24.0},{"s":"y","f":122,"db":22.1},{"s":"y","f":125,"db":22.5},{"s":"y","f":130,"db":24.1},{"s":"y","f":135,"db":23},{"s":"y","f":140,"db":24.4},{"s":"y","f":144,"db":26},{"s":"y","f":146.5,"db":27.7},{"s":"y","f":150,"db":25.2},{"s":"y","f":155,"db":24},{"s":"y","f":160,"db":22.6},{"s":"y","f":165,"db":22},{"s":"y","f":172,"db":21.4},{"s":"y","f":180,"db":20.9},{"s":"y","f":186,"db":22.4},{"s":"y","f":192,"db":22},{"s":"y","f":198,"db":23.6},{"s":"y","f":204,"db":22.8},{"s":"y","f":212,"db":20.8},{"s":"y","f":220,"db":21.5},{"s":"y","f":230,"db":23.1},{"s":"y","f":238,"db":22.2},{"s":"y","f":245,"db":24},{"s":"y","f":252,"db":22.1},{"s":"y","f":259,"db":21},{"s":"y","f":266,"db":21.5},{"s":"y","f":275,"db":23.4},{"s":"y","f":283,"db":21.7},{"s":"y","f":290,"db":22.5},{"s":"y","f":300,"db":24.3},{"s":"y","f":310,"db":23.7},{"s":"y","f":320,"db":21.8},{"s":"y","f":330,"db":22},{"s":"y","f":345,"db":20.4},{"s":"y","f":360,"db":21},{"s":"y","f":375,"db":22.6},{"s":"y","f":390,"db":20.5},{"s":"y","f":401,"db":21.5},{"s":"y","f":415,"db":19.3},{"s":"y","f":430,"db":20},{"s":"y","f":445,"db":18.6},{"s":"y","f":460,"db":19}],
"lg":[
{"s":"1","f":20,"db":37.0},{"s":"1","f":20.7,"db":29},{"s":"1","f":21.3,"db":27.5},{"s":"1","f":22,"db":30.5},{"s":"1","f":22.8,"db":33.5},{"s":"1","f":23.5,"db":28},{"s":"1","f":24.3,"db":30},{"s":"1","f":25,"db":26},{"s":"1","f":26,"db":28.5},{"s":"1","f":27,"db":31.5},{"s":"1","f":28,"db":33},{"s":"1","f":29,"db":30},{"s":"1","f":30,"db":26.5},{"s":"1","f":31.5,"db":29},{"s":"1","f":33,"db":34},{"s":"1","f":34.5,"db":30},{"s":"1","f":36,"db":27.5},{"s":"1","f":38,"db":25},{"s":"1","f":40,"db":27},{"s":"1","f":42,"db":31},{"s":"1","f":44,"db":33.5},{"s":"1","f":46,"db":29},{"s":"1","f":48,"db":25.5},{"s":"1","f":50,"db":23},{"s":"1","f":53,"db":25},{"s":"1","f":56,"db":28},{"s":"1","f":58,"db":30.5},{"s":"1","f":61,"db":27},{"s":"1","f":64,"db":24},{"s":"1","f":67,"db":22},{"s":"1","f":70,"db":24},{"s":"1","f":74,"db":21},{"s":"1","f":78,"db":23},{"s":"1","f":82,"db":25.5},{"s":"1","f":86,"db":22},{"s":"1","f":90,"db":20.5},{"s":"1","f":95,"db":23},{"s":"1","f":100,"db":21.5},{"s":"1","f":106,"db":25},{"s":"1","f":112,"db":28},{"s":"1","f":118,"db":30.5},{"s":"1","f":124,"db":27},{"s":"1","f":130,"db":23},{"s":"1","f":138,"db":21},{"s":"1","f":146,"db":23.5},{"s":"1","f":155,"db":26},{"s":"1","f":162,"db":24},{"s":"1","f":170,"db":21.5},{"s":"1","f":180,"db":23},{"s":"1","f":190,"db":25},{"s":"1","f":200,"db":22},{"s":"1","f":212,"db":19.5},{"s":"1","f":225,"db":22},{"s":"1","f":238,"db":20},{"s":"1","f":250,"db":23},{"s":"1","f":265,"db":25.5},{"s":"1","f":280,"db":22},{"s":"1","f":295,"db":24},{"s":"1","f":310,"db":21},{"s":"1","f":330,"db":19},{"s":"1","f":350,"db":22},{"s":"1","f":370,"db":20},{"s":"1","f":390,"db":22.5},{"s":"1","f":410,"db":24},{"s":"1","f":430,"db":21.5},{"s":"1","f":460,"db":19.5},{"s":"1","f":490,"db":21},{"s":"1","f":520,"db":18.5},{"s":"1","f":560,"db":20},{"s":"1","f":600,"db":17.5},{"s":"1","f":640,"db":19},
{"s":"2","f":20,"db":31},{"s":"2","f":21,"db":25},{"s":"2","f":21.8,"db":21},{"s":"2","f":22.5,"db":26},{"s":"2","f":23.3,"db":28.5},{"s":"2","f":24,"db":24},{"s":"2","f":25,"db":25},{"s":"2","f":26,"db":22},{"s":"2","f":27,"db":18.5},{"s":"2","f":28,"db":22},{"s":"2","f":29.5,"db":20},{"s":"2","f":31,"db":24},{"s":"2","f":32.5,"db":27},{"s":"2","f":34,"db":22},{"s":"2","f":35.5,"db":18},{"s":"2","f":37,"db":20},{"s":"2","f":38.5,"db":16.5},{"s":"2","f":40,"db":15},{"s":"2","f":41.5,"db":17},{"s":"2","f":43,"db":22},{"s":"2","f":45,"db":25},{"s":"2","f":47,"db":21},{"s":"2","f":49,"db":16.5},{"s":"2","f":51,"db":15},{"s":"2","f":53,"db":18},{"s":"2","f":56,"db":23},{"s":"2","f":59,"db":21.5},{"s":"2","f":62,"db":19},{"s":"2","f":66,"db":22},{"s":"2","f":70,"db":19},{"s":"2","f":75,"db":17.5},{"s":"2","f":80,"db":20.5},{"s":"2","f":85,"db":18},{"s":"2","f":90,"db":16},{"s":"2","f":95,"db":15},{"s":"2","f":100,"db":17.5},{"s":"2","f":108,"db":21},{"s":"2","f":115,"db":24},{"s":"2","f":122,"db":22},{"s":"2","f":130,"db":19},{"s":"2","f":140,"db":17},{"s":"2","f":150,"db":20.5},{"s":"2","f":160,"db":22.5},{"s":"2","f":170,"db":19.5},{"s":"2","f":185,"db":17},{"s":"2","f":200,"db":20},{"s":"2","f":215,"db":22.5},{"s":"2","f":230,"db":19},{"s":"2","f":245,"db":17},{"s":"2","f":260,"db":18.5},{"s":"2","f":280,"db":21},{"s":"2","f":300,"db":19.5},{"s":"2","f":320,"db":17},{"s":"2","f":340,"db":15.5},{"s":"2","f":360,"db":17.5},{"s":"2","f":380,"db":20},{"s":"2","f":400,"db":18},{"s":"2","f":430,"db":16},{"s":"2","f":460,"db":17.5},{"s":"2","f":500,"db":16},
{"s":"3","f":20,"db":27},{"s":"3","f":20.5,"db":23.5},{"s":"3","f":21.2,"db":20.3},{"s":"3","f":22,"db":24},{"s":"3","f":23,"db":26.5},{"s":"3","f":24,"db":22.5},{"s":"3","f":25,"db":20},{"s":"3","f":26,"db":23},{"s":"3","f":27,"db":25},{"s":"3","f":28.5,"db":23},{"s":"3","f":30,"db":20},{"s":"3","f":31.5,"db":18},{"s":"3","f":33,"db":20.5},{"s":"3","f":35,"db":23},{"s":"3","f":37,"db":21},{"s":"3","f":39,"db":18.5},{"s":"3","f":41,"db":20.5},{"s":"3","f":43,"db":23},{"s":"3","f":45.5,"db":20},{"s":"3","f":48,"db":17},{"s":"3","f":51,"db":19},{"s":"3","f":54,"db":21.5},{"s":"3","f":57,"db":19.5},{"s":"3","f":60,"db":17},{"s":"3","f":64,"db":18.5},{"s":"3","f":68,"db":21},{"s":"3","f":72,"db":18},{"s":"3","f":76,"db":16},{"s":"3","f":80,"db":17.5},{"s":"3","f":85,"db":20},{"s":"3","f":90,"db":18.5},{"s":"3","f":96,"db":21.5},{"s":"3","f":102,"db":19},{"s":"3","f":110,"db":17},{"s":"3","f":118,"db":18.5},{"s":"3","f":127,"db":21},{"s":"3","f":136,"db":19},{"s":"3","f":146,"db":17.5},{"s":"3","f":157,"db":19.5},{"s":"3","f":168,"db":22},{"s":"3","f":180,"db":19},{"s":"3","f":193,"db":17},{"s":"3","f":206,"db":18.5},{"s":"3","f":220,"db":21},{"s":"3","f":236,"db":19},{"s":"3","f":252,"db":17},{"s":"3","f":270,"db":19.5},{"s":"3","f":290,"db":22},{"s":"3","f":310,"db":19.5},{"s":"3","f":330,"db":18},{"s":"3","f":355,"db":20},{"s":"3","f":380,"db":22},{"s":"3","f":400,"db":19},{"s":"3","f":420,"db":17},{"s":"3","f":440,"db":18.5},{"s":"3","f":470,"db":20},{"s":"3","f":500,"db":18},{"s":"3","f":530,"db":17.5},{"s":"3","f":560,"db":19},{"s":"3","f":600,"db":18},{"s":"3","f":650,"db":19.5},{"s":"3","f":700,"db":18},{"s":"3","f":760,"db":20},{"s":"3","f":820,"db":19},{"s":"3","f":900,"db":20.5},{"s":"3","f":1000,"db":19.5},{"s":"3","f":1100,"db":21},{"s":"3","f":1200,"db":20},{"s":"3","f":1350,"db":21.5},{"s":"3","f":1500,"db":21},{"s":"3","f":1700,"db":22.5},{"s":"3","f":1900,"db":22},{"s":"3","f":2100,"db":23.5},{"s":"3","f":2400,"db":23},{"s":"3","f":2700,"db":24},{"s":"3","f":3000,"db":23.8},{"s":"3","f":3400,"db":24.5},{"s":"3","f":3800,"db":24.8},{"s":"3","f":4300,"db":25},{"s":"3","f":4800,"db":24.6},{"s":"3","f":5300,"db":24.8},{"s":"3","f":5700,"db":24.5},
{"s":"4","f":400,"db":17},{"s":"4","f":430,"db":19},{"s":"4","f":460,"db":16.5},{"s":"4","f":500,"db":18},{"s":"4","f":540,"db":16},{"s":"4","f":580,"db":17.5},{"s":"4","f":620,"db":15.5},{"s":"4","f":660,"db":17.5},{"s":"4","f":700,"db":19},{"s":"4","f":750,"db":17},{"s":"4","f":800,"db":18.5},{"s":"4","f":850,"db":17.5},{"s":"4","f":900,"db":19},{"s":"4","f":950,"db":18},{"s":"4","f":1000,"db":19.5},{"s":"4","f":1060,"db":18.5},{"s":"4","f":1120,"db":20},{"s":"4","f":1180,"db":19},{"s":"4","f":1250,"db":20.5},{"s":"4","f":1330,"db":19.5},{"s":"4","f":1420,"db":21},{"s":"4","f":1520,"db":20.5},{"s":"4","f":1620,"db":21.5},{"s":"4","f":1730,"db":21},{"s":"4","f":1850,"db":22},{"s":"4","f":1980,"db":21.5},{"s":"4","f":2120,"db":22.5},{"s":"4","f":2270,"db":22},{"s":"4","f":2430,"db":23},{"s":"4","f":2600,"db":22.5},{"s":"4","f":2780,"db":23.5},{"s":"4","f":2970,"db":23},{"s":"4","f":3180,"db":24},{"s":"4","f":3400,"db":23.6},{"s":"4","f":3640,"db":24.5},{"s":"4","f":3900,"db":24.2},{"s":"4","f":4200,"db":24.8},{"s":"4","f":4500,"db":24.3},
{"s":"5","f":450,"db":15.5},{"s":"5","f":480,"db":17.5},{"s":"5","f":520,"db":19},{"s":"5","f":560,"db":17},{"s":"5","f":600,"db":18.5},{"s":"5","f":640,"db":16.5},{"s":"5","f":690,"db":18},{"s":"5","f":740,"db":19.5},{"s":"5","f":790,"db":18},{"s":"5","f":850,"db":20},{"s":"5","f":910,"db":18.5},{"s":"5","f":970,"db":20.5},{"s":"5","f":1030,"db":19},{"s":"5","f":1100,"db":20.5},{"s":"5","f":1170,"db":18.5},{"s":"5","f":1250,"db":20},{"s":"5","f":1340,"db":21},{"s":"5","f":1430,"db":20},{"s":"5","f":1530,"db":21.5},{"s":"5","f":1640,"db":20.5},{"s":"5","f":1750,"db":22},{"s":"5","f":1870,"db":21},{"s":"5","f":2000,"db":22.5},{"s":"5","f":2140,"db":21.5},{"s":"5","f":2290,"db":23},{"s":"5","f":2450,"db":22.5},{"s":"5","f":2620,"db":23.5},{"s":"5","f":2800,"db":23},{"s":"5","f":3000,"db":24},{"s":"5","f":3200,"db":23.5},{"s":"5","f":3450,"db":24.5},{"s":"5","f":3700,"db":24},{"s":"5","f":3950,"db":25},{"s":"5","f":4200,"db":24.5},
{"s":"6","f":380,"db":18},{"s":"6","f":410,"db":20},{"s":"6","f":440,"db":22},{"s":"6","f":470,"db":19.5},{"s":"6","f":500,"db":21},{"s":"6","f":540,"db":19},{"s":"6","f":580,"db":20.5},{"s":"6","f":620,"db":18},{"s":"6","f":670,"db":19.5},{"s":"6","f":720,"db":17.5},{"s":"6","f":780,"db":19},{"s":"6","f":840,"db":18},{"s":"6","f":900,"db":17.5},{"s":"6","f":960,"db":18.5},{"s":"6","f":1020,"db":17.5},{"s":"6","f":1090,"db":18.5},{"s":"6","f":1160,"db":19.5},{"s":"6","f":1240,"db":18.5},{"s":"6","f":1320,"db":19},{"s":"6","f":1410,"db":18.5},{"s":"6","f":1500,"db":19.5},{"s":"6","f":1600,"db":19},{"s":"6","f":1700,"db":20},{"s":"6","f":1820,"db":19.5},{"s":"6","f":1940,"db":20.5},{"s":"6","f":2070,"db":21},{"s":"6","f":2210,"db":20.5},{"s":"6","f":2360,"db":21.5},{"s":"6","f":2520,"db":21},{"s":"6","f":2690,"db":22},{"s":"6","f":2870,"db":22.3},{"s":"6","f":3060,"db":21.8},{"s":"6","f":3270,"db":22.5},{"s":"6","f":3490,"db":23},{"s":"6","f":3720,"db":22.8},{"s":"6","f":3970,"db":23.8},{"s":"6","f":4240,"db":24.3},{"s":"6","f":4530,"db":23.8},{"s":"6","f":4830,"db":24.5},{"s":"6","f":5160,"db":24.8},{"s":"6","f":5500,"db":24.5},
{"s":"7","f":420,"db":16},{"s":"7","f":450,"db":18},{"s":"7","f":490,"db":17},{"s":"7","f":530,"db":15.5},{"s":"7","f":570,"db":17},{"s":"7","f":610,"db":18.5},{"s":"7","f":650,"db":17},{"s":"7","f":700,"db":18},{"s":"7","f":760,"db":16.5},{"s":"7","f":820,"db":17.5},{"s":"7","f":880,"db":17},{"s":"7","f":940,"db":18},{"s":"7","f":1000,"db":17},{"s":"7","f":1070,"db":18.5},{"s":"7","f":1140,"db":19},{"s":"7","f":1220,"db":18},{"s":"7","f":1300,"db":19.5},{"s":"7","f":1390,"db":20},{"s":"7","f":1480,"db":19.5},{"s":"7","f":1580,"db":20.5},{"s":"7","f":1690,"db":21},{"s":"7","f":1800,"db":20.5},{"s":"7","f":1920,"db":21.5},{"s":"7","f":2050,"db":22},{"s":"7","f":2190,"db":21.3},{"s":"7","f":2340,"db":22.3},{"s":"7","f":2500,"db":22},{"s":"7","f":2670,"db":22.8},{"s":"7","f":2850,"db":22.5},{"s":"7","f":3040,"db":23.3},{"s":"7","f":3250,"db":23},{"s":"7","f":3470,"db":23.5},{"s":"7","f":3700,"db":23.2},{"s":"7","f":3950,"db":24},{"s":"7","f":4200,"db":23.5},
{"s":"8","f":1300,"db":25},{"s":"8","f":1420,"db":24.5},{"s":"8","f":1550,"db":25.5},{"s":"8","f":1700,"db":25},{"s":"8","f":1850,"db":24},{"s":"8","f":2000,"db":25},{"s":"8","f":2200,"db":24.5},{"s":"8","f":2400,"db":25.5},{"s":"8","f":2650,"db":25},{"s":"8","f":2900,"db":25.8},{"s":"8","f":3200,"db":25.3},{"s":"8","f":3500,"db":26},{"s":"8","f":3800,"db":25.5},{"s":"8","f":4100,"db":26.2},{"s":"8","f":4400,"db":25.8},{"s":"8","f":4800,"db":24.8},{"s":"8","f":5200,"db":24.6},{"s":"8","f":5700,"db":24.5},
{"s":"9","f":3500,"db":24.5},{"s":"9","f":3800,"db":25},{"s":"9","f":4200,"db":25.5},{"s":"9","f":4600,"db":26},{"s":"9","f":5000,"db":26.2},{"s":"9","f":5400,"db":26.5},{"s":"9","f":5800,"db":27.0},{"s":"9","f":6200,"db":26.3},{"s":"9","f":6700,"db":26.8},{"s":"9","f":7200,"db":27.3},{"s":"9","f":7700,"db":26.8},{"s":"9","f":8100,"db":26.2},{"s":"9","f":8500,"db":25.8},
{"s":"10","f":7000,"db":28.6},{"s":"10","f":7600,"db":29},{"s":"10","f":8200,"db":28.8},{"s":"10","f":8900,"db":28.5},{"s":"10","f":9600,"db":29.0},{"s":"10","f":10300,"db":28.9},{"s":"10","f":11000,"db":29.2},{"s":"10","f":11600,"db":28.9},{"s":"10","f":12100,"db":28.5},
{"s":"11","f":4300,"db":31.2},{"s":"11","f":4600,"db":30.8},{"s":"11","f":5000,"db":30.6},{"s":"11","f":5300,"db":30.8},{"s":"11","f":5600,"db":31.2},{"s":"11","f":5900,"db":31.5},
{"s":"12","f":20,"db":23.5},{"s":"12","f":20.6,"db":20.2},{"s":"12","f":21.3,"db":22},{"s":"12","f":22,"db":25.5},{"s":"12","f":22.8,"db":23},{"s":"12","f":23.6,"db":20},{"s":"12","f":24.5,"db":22},{"s":"12","f":25.5,"db":25},{"s":"12","f":26.5,"db":24},{"s":"12","f":27.5,"db":21},{"s":"12","f":28.5,"db":19},{"s":"12","f":30,"db":21.5},{"s":"12","f":31.5,"db":24},{"s":"12","f":33,"db":22},{"s":"12","f":34.5,"db":19.5},{"s":"12","f":36,"db":17},{"s":"12","f":38,"db":19},{"s":"12","f":40,"db":22},{"s":"12","f":42,"db":20},{"s":"12","f":44,"db":17.5},{"s":"12","f":46.5,"db":19},{"s":"12","f":49,"db":21.5},{"s":"12","f":52,"db":19.5},{"s":"12","f":55,"db":17},{"s":"12","f":58,"db":18.5},{"s":"12","f":62,"db":21},{"s":"12","f":66,"db":19},{"s":"12","f":70,"db":16.5},{"s":"12","f":75,"db":18},{"s":"12","f":80,"db":20.5},{"s":"12","f":86,"db":18.5},{"s":"12","f":92,"db":17},{"s":"12","f":98,"db":19},{"s":"12","f":105,"db":21},{"s":"12","f":112,"db":18.5},{"s":"12","f":120,"db":17},{"s":"12","f":130,"db":19.5},{"s":"12","f":140,"db":22},{"s":"12","f":150,"db":19},{"s":"12","f":162,"db":17},{"s":"12","f":175,"db":19},{"s":"12","f":188,"db":21.5},{"s":"12","f":202,"db":19},{"s":"12","f":218,"db":17.5},{"s":"12","f":235,"db":19},{"s":"12","f":252,"db":21},{"s":"12","f":270,"db":18.5},{"s":"12","f":290,"db":17},{"s":"12","f":310,"db":18.5},{"s":"12","f":335,"db":20.5},{"s":"12","f":360,"db":18},{"s":"12","f":385,"db":16.5},{"s":"12","f":410,"db":18},{"s":"12","f":440,"db":19.5},{"s":"12","f":470,"db":18},{"s":"12","f":500,"db":16.5},
{"s":"13","f":20,"db":33},{"s":"13","f":20.8,"db":27},{"s":"13","f":21.5,"db":24.5},{"s":"13","f":22.3,"db":28},{"s":"13","f":23,"db":30.5},{"s":"13","f":23.8,"db":27},{"s":"13","f":24.6,"db":35.5},{"s":"13","f":25.2,"db":31},{"s":"13","f":26,"db":27},{"s":"13","f":27,"db":29.5},{"s":"13","f":28,"db":24},{"s":"13","f":29,"db":27},{"s":"13","f":30.2,"db":31},{"s":"13","f":31.5,"db":27.5},{"s":"13","f":33,"db":24},{"s":"13","f":34.5,"db":26.5},{"s":"13","f":36,"db":29},{"s":"13","f":37.5,"db":26},{"s":"13","f":39,"db":23},{"s":"13","f":40.5,"db":25},{"s":"13","f":42.5,"db":28},{"s":"13","f":44.5,"db":25.5},{"s":"13","f":47,"db":23},{"s":"13","f":50,"db":25},{"s":"13","f":53,"db":27.5},{"s":"13","f":56,"db":25},{"s":"13","f":59,"db":22},{"s":"13","f":62,"db":24.5},{"s":"13","f":66,"db":27},{"s":"13","f":70,"db":25},{"s":"13","f":74.5,"db":30},{"s":"13","f":77,"db":28},{"s":"13","f":81,"db":30.2},{"s":"13","f":84,"db":26},{"s":"13","f":88,"db":23},{"s":"13","f":93,"db":25},{"s":"13","f":98,"db":22.5},{"s":"13","f":104,"db":24},{"s":"13","f":110,"db":26.5},{"s":"13","f":116,"db":24},{"s":"13","f":123,"db":22},{"s":"13","f":131,"db":24.5},{"s":"13","f":140,"db":27},{"s":"13","f":149,"db":29},{"s":"13","f":158,"db":26},{"s":"13","f":168,"db":23},{"s":"13","f":180,"db":25},{"s":"13","f":193,"db":27.5},{"s":"13","f":205,"db":24},{"s":"13","f":218,"db":22},{"s":"13","f":232,"db":24},{"s":"13","f":248,"db":26.5},{"s":"13","f":265,"db":24},{"s":"13","f":283,"db":22},{"s":"13","f":300,"db":23.5},{"s":"13","f":320,"db":26},{"s":"13","f":340,"db":23},{"s":"13","f":362,"db":21},{"s":"13","f":385,"db":23},{"s":"13","f":410,"db":25.5},{"s":"13","f":440,"db":22.5},{"s":"13","f":470,"db":20.5},{"s":"13","f":500,"db":22.5},{"s":"13","f":540,"db":24},{"s":"13","f":580,"db":21.5},{"s":"13","f":620,"db":20},{"s":"13","f":660,"db":22},{"s":"13","f":700,"db":24},{"s":"13","f":740,"db":22},{"s":"13","f":790,"db":20.5},{"s":"13","f":840,"db":22.5},{"s":"13","f":890,"db":21}]
},
"layer":[
{"data":{"name":"major"},"mark":{"type":"rule","color":"#8c8c8c","strokeWidth":1},
 "encoding":{"x":{"field":"f","type":"quantitative","scale":{"type":"log","domain":[20,20000],"nice":false},
  "axis":{"title":null,"grid":true,"values":[20,30,40,50,60,70,80,90,100,200,300,400,500,600,700,800,900,1000,2000,3000,4000,5000,6000,7000,8000,9000,10000,20000],
   "labelExpr":"datum.value==90||datum.value==700||datum.value==900||datum.value==9000?'':(datum.value==20000?'20,0kHz':(datum.value>=1000?(datum.value/1000)+'k':datum.label))",
   "labelFlush":false,"labelOverlap":false,"labelPadding":7,"labelBound":false}}}},
{"data":{"name":"lg"},"mark":{"type":"line","color":"#d6d6d6","strokeWidth":2,"clip":true},
 "encoding":{"x":{"field":"f","type":"quantitative","scale":{"type":"log","domain":[20,20000],"nice":false}},
  "y":{"field":"db","type":"quantitative","scale":{"domain":[15,100],"nice":false,"zero":false},
   "axis":{"title":"dB","titleAngle":0,"titleX":-13,"titleY":-7,"titleAlign":"center","titleBaseline":"alphabetic","titleFont":"DejaVu Sans","titleFontSize":10.5,"titleFontWeight":"normal","titleColor":"#000000","grid":true,"values":[15,20,25,30,35,40,45,50,55,60,65,70,75,80,85,90,95,100],"labelPadding":6}},
  "detail":{"field":"s","type":"nominal"}}},
{"data":{"name":"gray"},"mark":{"type":"line","color":"#a0a0a0","strokeWidth":2,"clip":true},
 "encoding":{"x":{"field":"f","type":"quantitative"},"y":{"field":"db","type":"quantitative"}}},
{"data":{"name":"col"},"mark":{"type":"line","strokeWidth":2,"clip":true},
 "encoding":{"x":{"field":"f","type":"quantitative"},"y":{"field":"db","type":"quantitative"},
  "color":{"field":"s","type":"nominal","scale":{"domain":["c","p","u","g","y"],"range":["#00dede","#ee82ee","#6495ed","#32c832","#c8c800"]},"legend":null}}},
{"data":{"name":"orange"},"mark":{"type":"line","color":"#e8960a","strokeWidth":2,"clip":true},
 "encoding":{"x":{"field":"f","type":"quantitative"},"y":{"field":"db","type":"quantitative"}}},
{"data":{"name":"red"},"mark":{"type":"line","color":"#cc0000","strokeWidth":2,"clip":true},
 "encoding":{"x":{"field":"f","type":"quantitative"},"y":{"field":"db","type":"quantitative"}}},
{"data":{"name":"dgray"},"mark":{"type":"line","color":"#404040","strokeWidth":2,"clip":true},
 "encoding":{"x":{"field":"f","type":"quantitative"},"y":{"field":"db","type":"quantitative"}}},
{"data":{"name":"brown"},"mark":{"type":"line","color":"#6e3810","strokeWidth":2.4,"clip":true},
 "encoding":{"x":{"field":"f","type":"quantitative"},"y":{"field":"db","type":"quantitative"}}},
{"data":{"name":"main"},"mark":{"type":"line","color":"#a34f14","strokeWidth":2,"interpolate":"monotone","clip":true},
 "encoding":{"x":{"field":"f","type":"quantitative"},"y":{"field":"db","type":"quantitative"}}}
]
}
